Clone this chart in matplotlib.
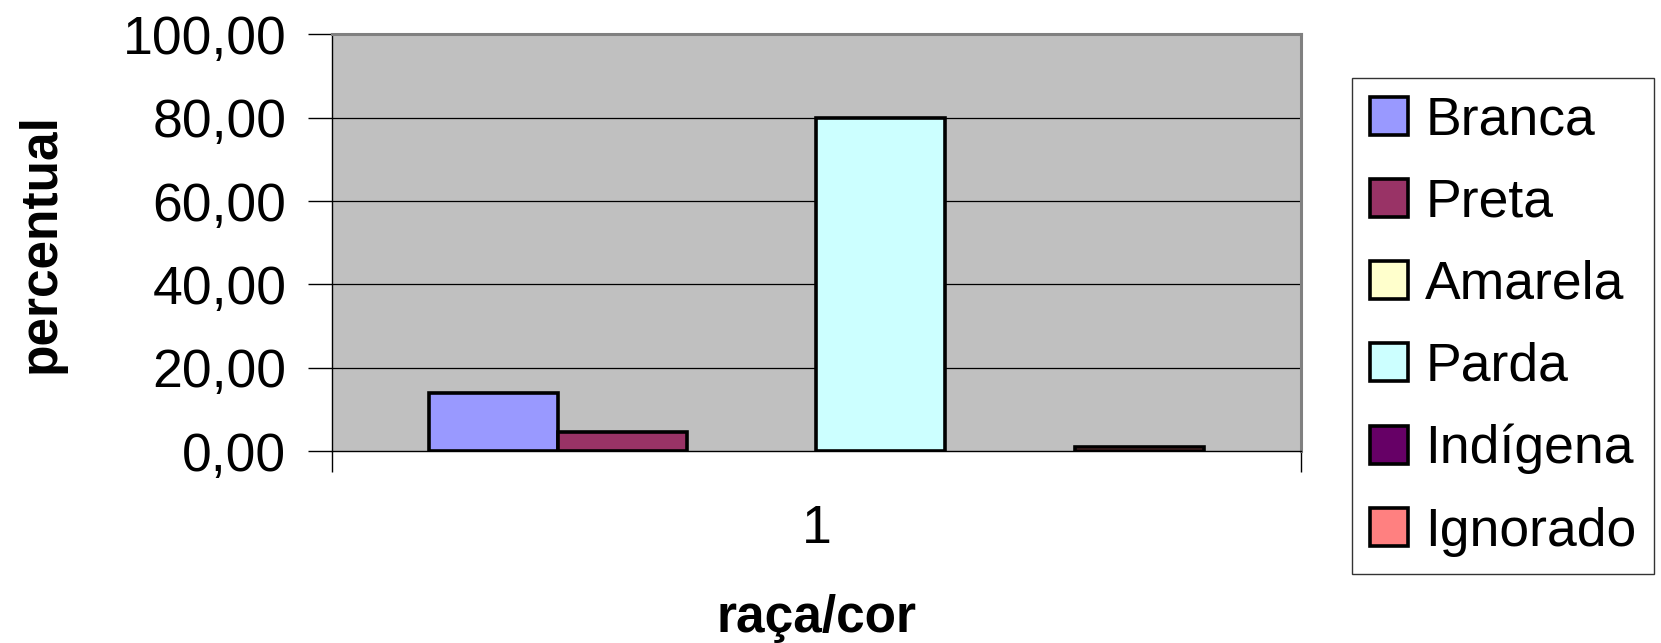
import matplotlib.pyplot as plt
import numpy as np

plt.rcParams['font.family'] = ['Liberation Sans', 'DejaVu Sans']

# Data
categorias = ['Branca', 'Preta', 'Amarela', 'Parda', 'Indígena', 'Ignorado']
percentual = [14.0, 4.6, 0.0, 80.0, 0.0, 1.1]
cores = ['#9999FF', '#993366', '#FFFFCC', '#CCFFFF', '#660066', '#FF8080']
grupo = ['1']
y_ticks = [0, 20, 40, 60, 80, 100]

fig = plt.figure(figsize=(16.61, 6.43), dpi=100)
ax = fig.add_axes([0.200, 0.298, 0.583, 0.649])
ax.set_facecolor('#C0C0C0')

n = len(categorias)
group_width = 0.8
bar_w = group_width / n
for i, (cat, val, cor) in enumerate(zip(categorias, percentual, cores)):
    x = 1 - group_width / 2 + bar_w * (i + 0.5)
    ax.bar(x, val, width=bar_w, color=cor, edgecolor='black',
           linewidth=2.6 if val > 0 else 0, label=cat, zorder=3)

ax.set_xlim(0.5, 1.5)
ax.set_ylim(0, 100)

# horizontal gridlines
ax.set_yticks(y_ticks)
ax.set_yticklabels([f'{v:.2f}'.replace('.', ',') for v in y_ticks], fontsize=38.5)
for v in y_ticks[1:-1]:
    ax.axhline(v, color='black', linewidth=0.9, zorder=1)

# x axis: category label at centre, tick marks at boundaries
ax.set_xticks([0.5, 1.5])
ax.set_xticklabels(['', ''])
ax.set_xticks([1], minor=True)
ax.set_xticklabels(grupo, minor=True, fontsize=38.5)
ax.tick_params(axis='x', which='major', direction='out', length=15, width=1, color='black')
ax.tick_params(axis='x', which='minor', length=0, pad=38)
ax.tick_params(axis='y', direction='out', length=17, width=1, pad=16)

for side in ['top', 'right']:
    ax.spines[side].set_color('#808080')
    ax.spines[side].set_linewidth(2.2)
ax.spines['left'].set_color('black')
ax.spines['left'].set_linewidth(1.0)
ax.spines['bottom'].set_color('black')
ax.spines['bottom'].set_linewidth(1.0)

ax.set_ylabel('percentual', fontsize=37, fontweight='bold', labelpad=41)
ax.set_xlabel('raça/cor', fontsize=37, fontweight='bold', labelpad=29)

leg = ax.legend(loc='upper left', bbox_to_anchor=(1352 / 1661, 1 - 78 / 643),
                bbox_transform=fig.transFigure, fontsize=38.5, frameon=True,
                fancybox=False, edgecolor='black', handlelength=0.72,
                handleheight=0.72, handletextpad=0.32, labelspacing=0.6,
                borderpad=0.33, borderaxespad=0)
leg.get_frame().set_linewidth(1.0)
for h in leg.legend_handles:
    h.set_edgecolor('black')
    h.set_linewidth(2.6)

plt.savefig('out.png', dpi=100)
